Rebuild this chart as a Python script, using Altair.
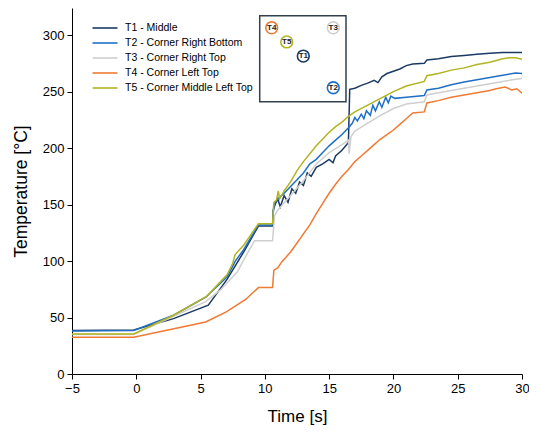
import altair as alt
import pandas as pd

series_names = ["T1 - Middle", "T2 - Corner Right Bottom", "T3 - Corner Right Top",
                "T4 - Corner Left Top", "T5 - Corner Middle Left Top"]
series_colors = ["#1b3a62", "#1f6fc5", "#cfcfcf", "#ef7a33", "#b2b420"]

t1_time = [-5, -0.2, 2.9, 5.6, 7.07, 8.35, 9.5, 10.6, 10.65, 10.8, 11.0, 11.2, 11.5, 11.8, 12.1, 12.4,
           12.7, 13.0, 13.3, 13.6, 14.0, 14.5, 15.0, 15.3, 15.5, 16.0, 16.5, 16.6, 17.0, 17.5, 18.0,
           18.5, 18.8, 19.1, 19.5, 20.0, 20.5, 21.0, 21.5, 22.4, 22.6, 23.5, 24.5, 25.5, 26.5, 27.5,
           28.5, 30.0]
t1_temp = [38.5, 39, 49, 61, 84, 108, 131, 131, 145, 150, 155, 148, 158, 152, 164, 160,
           170, 167, 178, 175, 183, 186, 190, 187, 193, 198, 205, 252, 253, 255.5, 257.5,
           260, 258, 263, 266, 268, 270, 273, 274.5, 275, 278, 279, 281, 282, 283, 284,
           284.5, 284.5]

t2_time = [-5, -0.2, 2.9, 5.4, 7.07, 7.7, 8.35, 9.5, 10.6, 10.7, 11.0, 11.5, 12.0, 12.5, 13.0, 13.5,
           14.0, 14.5, 15.0, 15.5, 16.0, 16.5, 16.8, 17.0, 17.2, 17.5, 17.7, 17.9, 18.2, 18.4, 18.6,
           18.9, 19.1, 19.4, 19.6, 19.8, 20.1, 21.0, 22.4, 22.6, 23.5, 24.5, 25.5, 26.5, 27.5, 28.5,
           29.5, 30.0]
t2_temp = [38, 38.5, 52, 68, 86, 100, 110, 132, 132, 150, 155, 160, 166, 172, 178, 186,
           190, 196, 202, 207, 212, 218, 222, 227, 224, 230, 226, 233, 229, 238, 233,
           241, 236, 245, 240, 246, 244, 245, 246.5, 251.5, 253, 256, 258.5, 260.5, 262.5, 264.5,
           266.5, 266]

t3_time = [-5, -0.2, 5.4, 6.5, 7.84, 8.5, 9.2, 10.6, 10.75, 11.0, 12.0, 13.0, 14.0, 15.0, 16.0, 16.5,
           16.55, 16.7, 17.0, 18.0, 19.0, 20.0, 21.0, 22.4, 22.6, 23.5, 24.5, 25.5, 26.5, 27.5, 28.5,
           29.5, 30.0]
t3_temp = [35, 35, 64, 74, 90, 104, 118, 118, 140, 145, 158, 171, 186, 196, 203, 207,
           195, 210, 215, 222, 229, 235, 239, 241, 247, 249, 251, 253, 255, 257, 259,
           261, 261.5]

t4_time = [-5, -0.2, 5.4, 7.0, 8.5, 9.5, 10.6, 10.7, 11.0, 11.3, 12.0, 12.5, 13.0, 13.5, 14.0, 14.5,
           15.0, 15.5, 16.0, 16.5, 17.0, 17.5, 18.0, 18.5, 19.0, 19.5, 20.0, 20.5, 21.0, 21.5, 22.4,
           22.6, 23.5, 24.5, 25.5, 26.5, 27.5, 28.0, 28.7, 29.2, 29.6, 30.0]
t4_temp = [32.5, 32.5, 46, 55, 66, 76.5, 76.5, 92, 94, 99, 108, 116, 124, 132, 142, 151,
           160, 168, 175, 181, 188, 193, 198, 203, 208, 212, 216, 221, 226, 231, 232,
           240, 242, 245, 247, 249, 251, 252.5, 254, 251.5, 252.5, 248.5]

t5_time = [-5, -0.2, 2.9, 5.5, 7.07, 7.5, 7.7, 8.35, 9.5, 10.6, 10.7, 10.9, 11.05, 11.15, 11.5, 12.0,
           12.5, 13.0, 13.5, 14.0, 14.5, 15.0, 15.5, 16.0, 16.5, 17.0, 18.0, 19.0, 20.0, 21.0, 22.4,
           22.6, 23.5, 24.5, 25.5, 26.5, 27.5, 28.5, 29.0, 29.5, 30.0]
t5_temp = [35.5, 35.5, 52, 69, 88, 98, 106, 114, 133, 133, 152, 154, 162, 155, 162, 170,
           180, 188, 195, 202, 208, 214, 219, 223, 228, 232, 238, 244, 250, 255, 259,
           264, 266, 269, 271, 274, 276, 279, 280, 280, 278.5]

# inset: schematic of sensor positions (in chart data units)
inset_labels = ["T1", "T2", "T3", "T4", "T5"]
inset_x = [12.99, 15.32, 15.32, 10.53, 11.70]
inset_y = [281.4, 253.4, 306.5, 306.5, 294.0]
inset_box_x = [9.6, 16.31]
inset_box_y = [241.0, 317.1]

x_ticks = [-5 + 2.5 * i for i in range(15)]
y_ticks = [25 * i for i in range(13)]

times = [t1_time, t2_time, t3_time, t4_time, t5_time]
temps = [t1_temp, t2_temp, t3_temp, t4_temp, t5_temp]
rows = []
for name, tt, vv in zip(series_names, times, temps):
    for i, (a, b) in enumerate(zip(tt, vv)):
        rows.append({"time": a, "temp": b, "series": name, "idx": i})
df = pd.DataFrame(rows)

inset_df = pd.DataFrame({"label": inset_labels, "x": inset_x, "y": inset_y, "series": series_names})
box_df = pd.DataFrame({"x": [inset_box_x[0]], "x2": [inset_box_x[1]],
                       "y": [inset_box_y[0]], "y2": [inset_box_y[1]]})

FONT = "Liberation Sans"
xscale = alt.Scale(domain=[-5, 30], nice=False, zero=False)
yscale = alt.Scale(domain=[0, 324], nice=False, zero=True)
cscale = alt.Scale(domain=series_names, range=series_colors)

x_axis = alt.Axis(values=x_ticks, title="Time [s]",
                  labelExpr="datum.value % 5 === 0 ? datum.label : ''",
                  tickSize={"condition": {"test": "datum.value % 5 === 0", "value": 5}, "value": 3},
                  labelFlush=False, grid=False, labelFontSize=13, titleFontSize=17,
                  titleFontWeight="normal", labelPadding=3, titlePadding=13,
                  domainColor="black", tickColor="black", labelColor="black", titleColor="black",
                  labelFont=FONT, titleFont=FONT)
y_axis = alt.Axis(values=y_ticks, title="Temperature [°C]",
                  labelExpr="datum.value % 50 === 0 ? datum.label : ''",
                  tickSize={"condition": {"test": "datum.value % 50 === 0", "value": 5}, "value": 3},
                  labelFlush=False, grid=False, labelFontSize=13, titleFontSize=17.5,
                  titleFontWeight="normal", labelPadding=3, titlePadding=12,
                  domainColor="black", tickColor="black", labelColor="black", titleColor="black",
                  labelFont=FONT, titleFont=FONT)

lines = alt.Chart(df).mark_line(strokeWidth=1.5, clip=True).encode(
    x=alt.X("time:Q", scale=xscale, axis=x_axis),
    y=alt.Y("temp:Q", scale=yscale, axis=y_axis),
    color=alt.Color("series:N", scale=cscale, title=None,
                    legend=alt.Legend(orient="none", legendX=27, legendY=14,
                                      symbolType="M-2.5,0H2.5",
                                      symbolSize=100, symbolStrokeWidth=1.6, labelFont=FONT,
                                      labelFontSize=10.5, labelColor="black", rowPadding=3,
                                      labelOffset=14, padding=0)),
    order="idx:Q",
)

box = alt.Chart(box_df).mark_rect(fill="white", fillOpacity=0, stroke="#33404d", strokeWidth=1.5).encode(
    x=alt.X("x:Q", scale=xscale), x2="x2:Q",
    y=alt.Y("y:Q", scale=yscale), y2="y2:Q",
)

circles = alt.Chart(inset_df).mark_point(shape="circle", filled=False, fill="white", fillOpacity=1,
                                         size=140, strokeWidth=1.6, opacity=1).encode(
    x=alt.X("x:Q", scale=xscale), y=alt.Y("y:Q", scale=yscale),
    stroke=alt.Stroke("series:N", scale=cscale, legend=None),
)

texts = alt.Chart(inset_df).mark_text(font=FONT, fontSize=8, fontWeight="bold", color="#222222").encode(
    x=alt.X("x:Q", scale=xscale), y=alt.Y("y:Q", scale=yscale), text="label:N",
)

chart = alt.layer(lines, box, circles, texts).properties(
    width=450, height=366,
    padding={"left": 64, "top": 0, "right": 7, "bottom": 58},
    autosize=alt.AutoSizeParams(type="none"),
    background="white",
).configure_view(stroke=None).configure_axis(domainWidth=1, tickWidth=1)

chart.save("out.html", embed_options={"renderer": "svg", "actions": False})
